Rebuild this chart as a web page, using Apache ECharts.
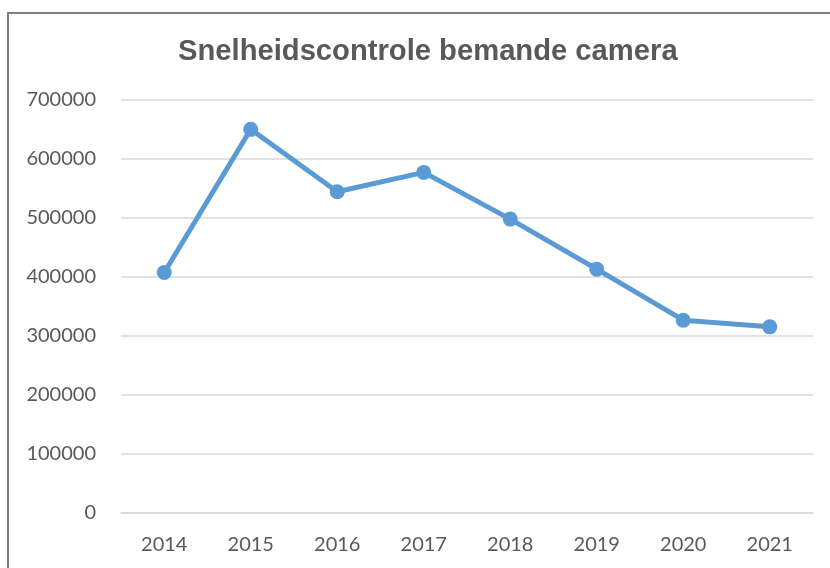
<!DOCTYPE html>
<html>
<head>
<meta charset="utf-8">
<script src="https://cdn.jsdelivr.net/npm/echarts@6/dist/echarts.min.js"></script>
<style>
  html, body { margin: 0; padding: 0; background: #ffffff; overflow: hidden; }
  #wrap { position: relative; width: 830px; height: 568px; overflow: hidden; }
  #chart { position: absolute; left: 0; top: 0; width: 830px; height: 568px; }
  #frame { position: absolute; left: 7px; top: 12px; width: 900px; height: 700px;
           border: 2px solid #7f7f7f; box-sizing: border-box; pointer-events: none; }
</style>
</head>
<body>
<div id="wrap">
  <div id="chart"></div>
  <div id="frame"></div>
</div>
<script>
const titleText = 'Snelheidscontrole bemande camera';
const categories = ['2014', '2015', '2016', '2017', '2018', '2019', '2020', '2021'];
const values = [407700, 650300, 544400, 577300, 498100, 413300, 326800, 315500];
const yMin = 0;
const yMax = 700000;
const yInterval = 100000;

const chart = echarts.init(document.getElementById('chart'), null, { renderer: 'canvas' });
chart.setOption({
  backgroundColor: '#ffffff',
  animation: false,
  title: {
    text: titleText,
    left: 173,
    top: 32,
    textStyle: {
      fontFamily: '"Liberation Sans", Arial, sans-serif',
      fontSize: 29.2,
      fontWeight: 'bold',
      color: '#595959'
    }
  },
  grid: { left: 121, right: 17, top: 100, bottom: 55, containLabel: false },
  xAxis: {
    type: 'category',
    data: categories,
    boundaryGap: true,
    axisLine: { show: true, lineStyle: { color: '#d9d9d9', width: 1.5 } },
    axisTick: { show: false },
    axisLabel: {
      fontFamily: 'Lato, "Open Sans", sans-serif',
      fontSize: 20,
      color: '#595959',
      margin: 22
    }
  },
  yAxis: {
    type: 'value',
    min: yMin,
    max: yMax,
    interval: yInterval,
    axisLine: { show: false },
    axisTick: { show: false },
    splitLine: { show: true, lineStyle: { color: '#d9d9d9', width: 1.5 } },
    axisLabel: {
      fontFamily: 'Lato, "Open Sans", sans-serif',
      fontSize: 20,
      color: '#595959',
      margin: 25,
      formatter: function (v) { return String(v); }
    }
  },
  series: [{
    type: 'line',
    data: values,
    symbol: 'circle',
    symbolSize: 15,
    lineStyle: { color: '#5b9bd5', width: 5 },
    itemStyle: { color: '#5b9bd5' }
  }]
});
</script>
</body>
</html>
